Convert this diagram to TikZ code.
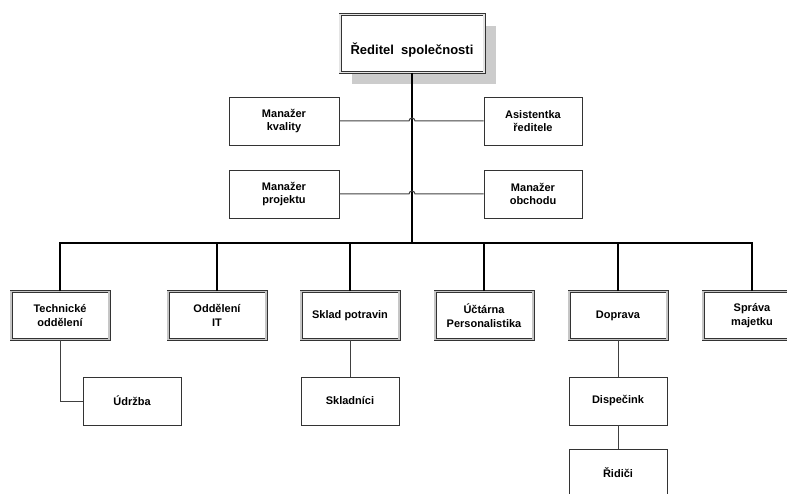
\documentclass[tikz,border=0pt]{standalone}
\usepackage{fontspec}
\setmainfont{Liberation Sans}
\usetikzlibrary{shadows,calc}
\tikzset{
  unit/.style={draw=black!80, line width=0.8pt, fill=white, minimum width=98pt,
    minimum height=48pt, inner sep=0pt, align=center,
    font=\fontsize{11}{13.5}\selectfont\bfseries},
  dept/.style={unit, line width=0.7pt, double=gray!45, double distance=1.6pt},
  staff/.style={unit, minimum width=110pt},
  link/.style={draw=black!75, line width=1pt},
  trunk/.style={draw=black, line width=1.4pt},
}
\begin{document}
\begin{tikzpicture}[x=1pt, y=1pt]
  \useasboundingbox (0,0) rectangle (787,-494);
  \clip (0,0) rectangle (787,-494);

  % director
  \node[dept, minimum width=144pt, minimum height=58pt, double=gray!20,
    font=\fontsize{13}{15}\selectfont\bfseries, text height=24pt, text depth=2.3pt,
    drop shadow={shadow xshift=12pt, shadow yshift=-12pt, fill=gray!40, opacity=1}]
    (ceo) at (412,-43.5) {Ředitel\ \ společnosti};
  \coordinate (bus) at (412,-243);

  % staff
  \node[staff] (kvalita) at (284,-121) {Manažer\\kvality};
  \node[unit] (asistent) at (533,-121) {Asistentka\\ředitele};
  \node[staff] (projekt) at (284,-194) {Manažer\\projektu};
  \node[unit] (obchod) at (533,-194) {Manažer\\obchodu};

  \draw[trunk] (ceo.south) -- (ceo.south |- bus);
  \draw[link] (kvalita.east) -- ($(ceo.south |- kvalita.east)+(-3,0)$) arc (180:0:3) -- (asistent.west);
  \draw[link] (projekt.east) -- ($(ceo.south |- projekt.east)+(-3,0)$) arc (180:0:3) -- (obchod.west);

  % departments
  \foreach \name/\x/\txt in {tech/60/{Technické\\oddělení}, it/217/{Oddělení\\IT},
      sklad/350/{Sklad potravin}, uctarna/484/{Účtárna\\Personalistika},
      doprava/618/{Doprava}, sprava/752/{Správa\\majetku}} {
    \node[dept] (\name) at (\x,-315.5) {\txt};
    \draw[trunk] (\name.north) -- (\name.north |- bus);
  }
  \draw[trunk] (tech.north) -- (tech.north |- bus) -- (sprava.north |- bus) -- (sprava.north);

  % sub units
  \node[unit] (udrzba) at (132,-401) {Údržba};
  \node[unit] (skladnici) at (350,-401) {Skladníci};
  \node[unit] (dispecink) at (618,-401) {Dispečink};
  \node[unit] (ridici) at (618,-473) {Řidiči};

  \draw[link] (tech.south) |- (udrzba.west);
  \draw[link] (sklad.south) -- (skladnici.north);
  \draw[link] (doprava.south) -- (dispecink.north);
  \draw[link] (dispecink.south) -- (ridici.north);
\end{tikzpicture}
\end{document}
